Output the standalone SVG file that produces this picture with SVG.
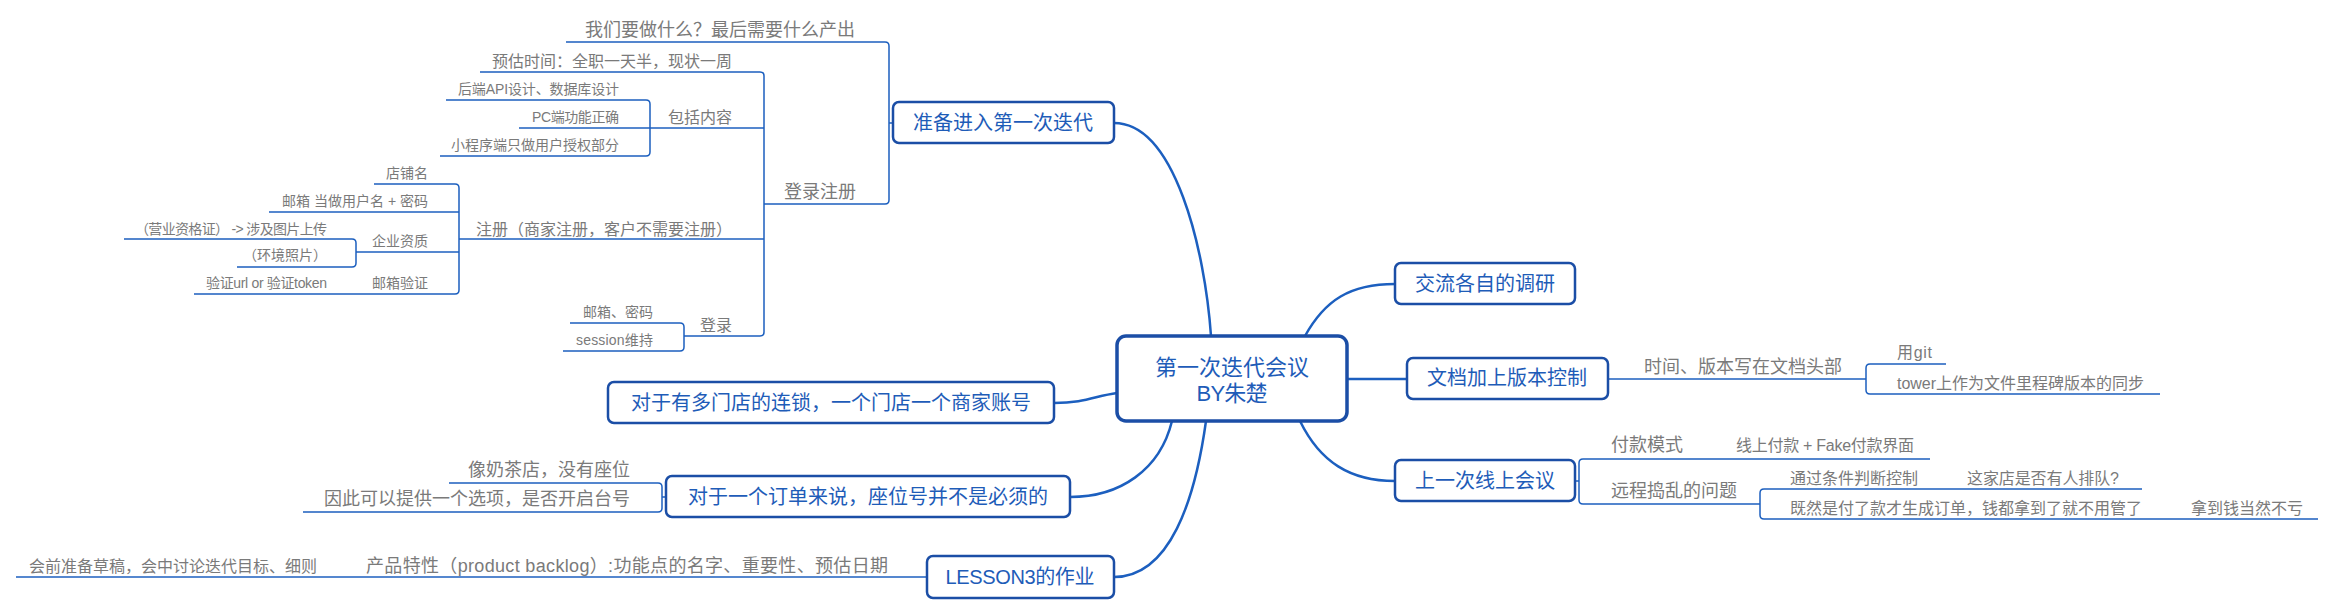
<svg xmlns="http://www.w3.org/2000/svg" width="2334" height="615" viewBox="0 0 2334 615">
<style>
text{font-family:"Liberation Sans","Noto Sans CJK SC",sans-serif;dominant-baseline:central}
.main rect{fill:#fff;stroke:#1b4ea6;stroke-width:2.5}
.main text{fill:#1e5cb8;font-size:20px;text-anchor:middle}
.t18{fill:#7a7a7a;font-size:18px}
.t16{fill:#7a7a7a;font-size:16px}
.t14{fill:#7a7a7a;font-size:14px}
.e{text-anchor:end}
#connectors path{fill:none;stroke:#1c5fbf}
.curve{stroke-width:2.5}
.sub{stroke-width:1.5}
</style>
<rect width="2334" height="615" fill="#fff"/>
<g id="connectors">
<path class="curve" d="M1211,336 C1205,250 1175,123 1114,123"/>
<path class="curve" d="M1305,336 C1325,300 1350,284 1395,284"/>
<path class="curve" d="M1347,379 H1407"/>
<path class="curve" d="M1300,421 C1320,462 1350,481 1395,481"/>
<path class="curve" d="M1117,393 C1095,396 1085,403 1054,403"/>
<path class="curve" d="M1172,421 C1160,470 1120,497 1070,497"/>
<path class="curve" d="M1206,421 C1195,500 1170,577 1114,577"/>
<path class="sub" d="M566,42 H885 Q889,42 889,46 V200 Q889,204 885,204 H764"/>
<path class="sub" d="M889,123 H893"/>
<path class="sub" d="M480,72 H760 Q764,72 764,76 V332 Q764,336 760,336 H684"/>
<path class="sub" d="M519,128 H764"/>
<path class="sub" d="M459,239 H764"/>
<path class="sub" d="M446,100 H646 Q650,100 650,104 V152 Q650,156 646,156 H440"/>
<path class="sub" d="M374,184 H455 Q459,184 459,188 V290 Q459,294 455,294 H194"/>
<path class="sub" d="M269,212 H459"/>
<path class="sub" d="M356,252 H459"/>
<path class="sub" d="M124,239 H352 Q356,239 356,243 V263 Q356,267 352,267 H237"/>
<path class="sub" d="M570,323 H680 Q684,323 684,327 V347 Q684,351 680,351 H563"/>
<path class="sub" d="M449,483 H658 Q662,483 662,487 V508 Q662,512 658,512 H303"/>
<path class="sub" d="M662,497 H666"/>
<path class="sub" d="M16,577 H927"/>
<path class="sub" d="M1608,379 H1866"/>
<path class="sub" d="M1946,364 H1870 Q1866,364 1866,368 V390 Q1866,394 1870,394 H2160"/>
<path class="sub" d="M1575,481 H1579"/>
<path class="sub" d="M1930,459 H1583 Q1579,459 1579,463 V500 Q1579,504 1583,504 H1760"/>
<path class="sub" d="M2142,489 H1764 Q1760,489 1760,493 V515 Q1760,519 1764,519 H2318"/>
</g>
<g id="center">
<rect x="1117" y="336" width="230" height="85" rx="9" fill="#fff" stroke="#1b4ea6" stroke-width="3.5"/>
<text x="1232" y="367" fill="#1e5cb8" font-size="22" text-anchor="middle">第一次迭代会议</text>
<text x="1232" y="393" fill="#1e5cb8" font-size="22" text-anchor="middle" textLength="71">BY朱楚</text>
</g>
<g id="n-prepare" class="main">
<rect x="893" y="102" width="221" height="41" rx="6"/>
<text x="1003" y="123">准备进入第一次迭代</text>
</g>
<g id="n-what">
<text class="t18 e" x="855" y="30">我们要做什么？最后需要什么产出</text>
</g>
<g id="n-loginreg">
<text class="t18 e" x="856" y="192">登录注册</text>
</g>
<g id="n-estimate">
<text class="t16 e" x="732" y="61">预估时间：全职一天半，现状一周</text>
</g>
<g id="n-include">
<text class="t16 e" x="732" y="117">包括内容</text>
</g>
<g id="n-api"><text class="t14 e" x="619" y="89" textLength="161">后端API设计、数据库设计</text></g>
<g id="n-pc"><text class="t14 e" x="619" y="117" textLength="87">PC端功能正确</text></g>
<g id="n-mini"><text class="t14 e" x="619" y="145">小程序端只做用户授权部分</text></g>
<g id="n-register">
<text class="t16 e" x="732" y="229">注册（商家注册，客户不需要注册）</text>
</g>
<g id="n-shop"><text class="t14 e" x="428" y="173">店铺名</text></g>
<g id="n-email"><text class="t14 e" x="428" y="201" textLength="146">邮箱 当做用户名 + 密码</text></g>
<g id="n-qual"><text class="t14 e" x="428" y="241">企业资质</text></g>
<g id="n-license"><text class="t14 e" x="327" y="229" textLength="192">（营业资格证） -&gt; 涉及图片上传</text></g>
<g id="n-env"><text class="t14 e" x="327" y="255">（环境照片）</text></g>
<g id="n-verify"><text class="t14 e" x="428" y="283">邮箱验证</text></g>
<g id="n-token"><text class="t14 e" x="327" y="283" textLength="121">验证url or 验证token</text></g>
<g id="n-login"><text class="t16 e" x="732" y="325">登录</text></g>
<g id="n-pwd"><text class="t14 e" x="653" y="312">邮箱、密码</text></g>
<g id="n-session"><text class="t14 e" x="653" y="340" textLength="77">session维持</text></g>
<g id="n-chain" class="main">
<rect x="608" y="382" width="446" height="41" rx="6"/>
<text x="831" y="403">对于有多门店的连锁，一个门店一个商家账号</text>
</g>
<g id="n-order" class="main">
<rect x="666" y="476" width="404" height="41" rx="6"/>
<text x="868" y="497">对于一个订单来说，座位号并不是必须的</text>
</g>
<g id="n-milktea"><text class="t18 e" x="630" y="470">像奶茶店，没有座位</text></g>
<g id="n-option"><text class="t18 e" x="630" y="499">因此可以提供一个选项，是否开启台号</text></g>
<g id="n-lesson3" class="main">
<rect x="927" y="556" width="187" height="42" rx="6"/>
<text x="1020" y="577" textLength="149">LESSON3的作业</text>
</g>
<g id="n-backlog"><text class="t18" x="366" y="566" textLength="522">产品特性（product backlog）:功能点的名字、重要性、预估日期</text></g>
<g id="n-draft"><text class="t16" x="29" y="566">会前准备草稿，会中讨论迭代目标、细则</text></g>
<g id="n-research" class="main">
<rect x="1395" y="263" width="180" height="41" rx="6"/>
<text x="1485" y="284">交流各自的调研</text>
</g>
<g id="n-version" class="main">
<rect x="1407" y="358" width="201" height="41" rx="6"/>
<text x="1507" y="378">文档加上版本控制</text>
</g>
<g id="n-header"><text class="t18" x="1644" y="367">时间、版本写在文档头部</text></g>
<g id="n-git"><text class="t16" x="1897" y="352" textLength="35">用git</text></g>
<g id="n-tower"><text class="t16" x="1897" y="383" textLength="247">tower上作为文件里程碑版本的同步</text></g>
<g id="n-lastmeeting" class="main">
<rect x="1395" y="460" width="180" height="41" rx="6"/>
<text x="1485" y="481">上一次线上会议</text>
</g>
<g id="n-paymode"><text class="t18" x="1611" y="445">付款模式</text></g>
<g id="n-online"><text class="t16" x="1736" y="445" textLength="178">线上付款 + Fake付款界面</text></g>
<g id="n-trouble"><text class="t18" x="1611" y="491">远程捣乱的问题</text></g>
<g id="n-cond"><text class="t16" x="1790" y="478">通过条件判断控制</text></g>
<g id="n-queue"><text class="t16" x="1967" y="478" textLength="152">这家店是否有人排队?</text></g>
<g id="n-paid"><text class="t16" x="1790" y="508">既然是付了款才生成订单，钱都拿到了就不用管了</text></g>
<g id="n-money"><text class="t16" x="2191" y="508">拿到钱当然不亏</text></g>
</svg>
